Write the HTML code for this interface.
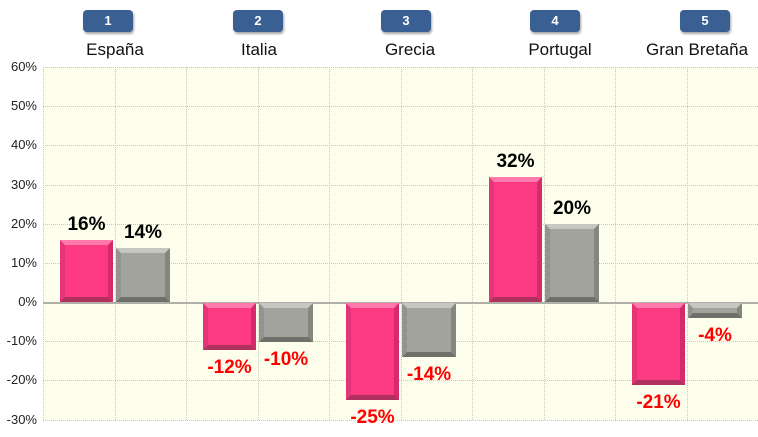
<!DOCTYPE html>
<html><head><meta charset="utf-8"><style>
body{margin:0;width:758px;height:437px;background:#fff;font-family:"Liberation Sans",sans-serif;position:relative;overflow:hidden}
.a{position:absolute}
.plot{left:43px;top:67px;width:715px;height:353px;background:#fefeec}
.hg{left:43px;width:715px;height:0;border-top:1px dotted #c8c8c0}
.vg{top:67px;height:353px;width:0;border-left:1px dotted #c8c8c0}
.yl{left:0;width:37px;text-align:right;font-size:13px;color:#222}
.badge{width:50px;height:22px;background:#3a5f92;border-radius:4px;color:#fff;font-size:13px;font-weight:bold;text-align:center;line-height:22px;box-shadow:1px 2px 2px rgba(0,0,0,.35)}
.cat{font-size:17px;color:#111;text-align:center;width:160px}
.bar{box-sizing:border-box;border-style:solid;border-width:5px}
.p{background:#fc3a82;border-color:#fd7aaa #d72a6c #b0305e #e63478}
.g{background:#a3a39d;border-color:#c7c7c2 #868681 #70706b #939390}
.lb{font-size:19px;font-weight:bold;width:60px;text-align:center}
</style></head><body>
<div class="a plot"></div>
<div id="grid"></div>
<script>
var h='';
for(var i=0;i<=9;i++){var y=67+i*39.17;h+='<div class="a hg" style="top:'+y+'px"></div>';h+='<div class="a yl" style="top:'+(y-8)+'px">'+(60-i*10)+'%</div>';}
for(var j=0;j<=10;j++){h+='<div class="a vg" style="left:'+(43+j*71.5)+'px"></div>';}
h+='<div class="a" style="left:43px;width:715px;top:302px;height:2px;background:#b0b0a8"></div>';
var cats=['España','Italia','Grecia','Portugal','Gran Bretaña'];
var bx=[83,233,381,530,680],cc=[115,259,410,560,697];
var pv=[16,-12,-25,32,-21],gv=[14,-10,-14,20,-4];
function bar(cls,x,w,v){var z=302.5,hh=Math.abs(v)*3.917;var t=v>=0?z-hh:z;var s='<div class="a bar '+cls+'" style="left:'+x+'px;width:'+w+'px;top:'+t+'px;height:'+hh+'px"></div>';
var cy=v>=0?t-15:z+hh+18;s+='<div class="a lb" style="left:'+(x+w/2-30)+'px;top:'+(cy-11)+'px;color:'+(v>=0?'#000':'#f00')+'">'+v+'%</div>';return s;}
for(var k=0;k<5;k++){var c=43+143*k+71.5;
h+='<div class="a badge" style="left:'+bx[k]+'px;top:10px">'+(k+1)+'</div>';
h+='<div class="a cat" style="left:'+(cc[k]-80)+'px;top:40px">'+cats[k]+'</div>';
h+=bar('p',c-54.5,53,pv[k]);h+=bar('g',c+1.5,54,gv[k]);}
document.getElementById('grid').innerHTML=h;
</script>
</body></html>
